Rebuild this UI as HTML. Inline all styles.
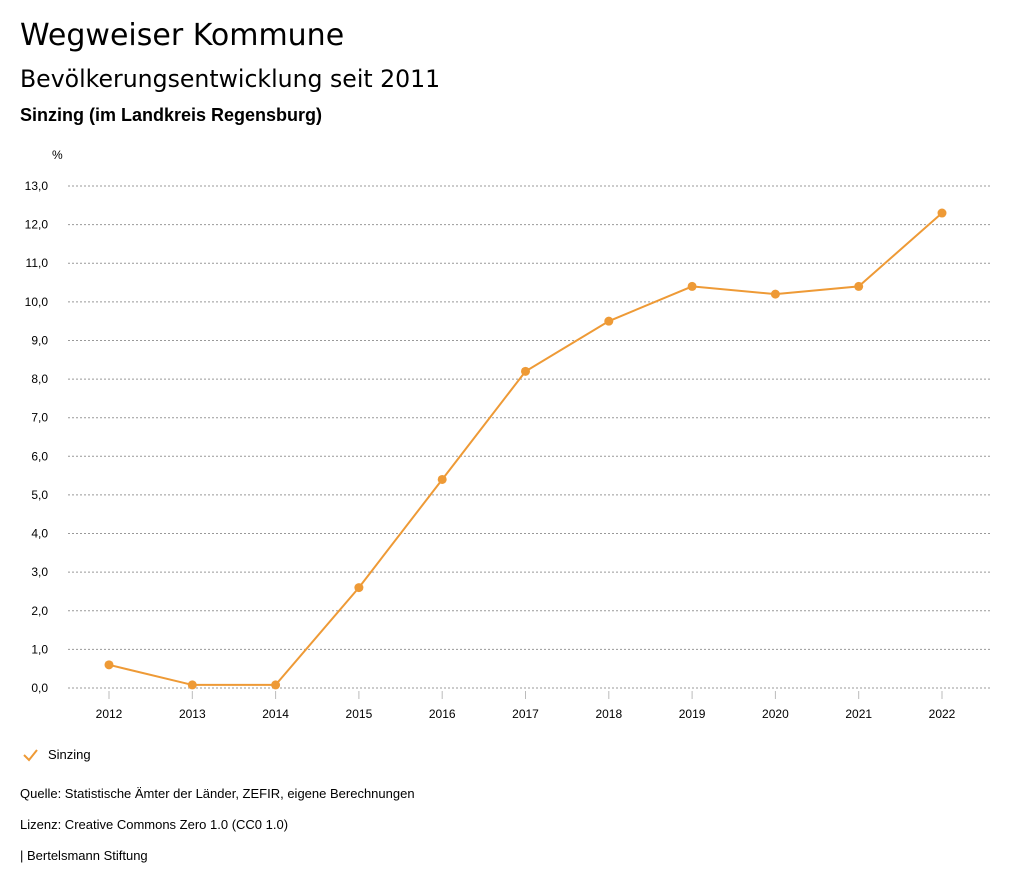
<!DOCTYPE html>
<html><head><meta charset="utf-8"><style>
body{margin:0;background:#fff;font-family:"Liberation Sans",sans-serif;color:#000;width:1024px;height:888px;overflow:hidden;position:relative}
.t{position:absolute;left:20px;white-space:nowrap}
</style></head><body>
<div class="t" style="top:18px;font-size:30px;font-family:'DejaVu Sans',sans-serif">Wegweiser Kommune</div>
<div class="t" style="top:65px;font-size:23.6px;font-family:'DejaVu Sans',sans-serif">Bevölkerungsentwicklung seit 2011</div>
<div class="t" style="top:105px;font-size:18px;font-weight:bold">Sinzing (im Landkreis Regensburg)</div>
<svg id="chart" width="1024" height="888" style="position:absolute;left:0;top:0"></svg>
<div class="t" style="top:786px;font-size:13px">Quelle: Statistische Ämter der Länder, ZEFIR, eigene Berechnungen</div>
<div class="t" style="top:817px;font-size:13px">Lizenz: Creative Commons Zero 1.0 (CC0 1.0)</div>
<div class="t" style="top:848px;font-size:13px">| Bertelsmann Stiftung</div>
<script>
const years=[2012,2013,2014,2015,2016,2017,2018,2019,2020,2021,2022];
const values=[0.6,0.08,0.08,2.6,5.4,8.2,9.5,10.4,10.2,10.4,12.3];
const yTicks=[0,1,2,3,4,5,6,7,8,9,10,11,12,13];
const seriesName='Sinzing';
const svg=document.getElementById('chart');
const NS='http://www.w3.org/2000/svg';
const col='#ee9a36';
const x0=109,x1=942,y0=688,y1=186;
const xs=i=>x0+(x1-x0)*i/(years.length-1);
const ys=v=>y0-(y0-y1)*v/13;
function mk(t,a){const e=document.createElementNS(NS,t);for(const k in a)e.setAttribute(k,a[k]);svg.appendChild(e);return e;}
let u=mk('text',{x:52,y:159,'font-size':12,'font-family':'Liberation Sans'});u.textContent='%';


yTicks.forEach(v=>{
 const l=mk('line',{x1:68,x2:990,y1:ys(v),y2:ys(v),stroke:'#999','stroke-dasharray':'2,2','stroke-width':1});
 
 
 const t=mk('text',{x:48,y:ys(v)+4,'font-size':12,'text-anchor':'end','font-family':'Liberation Sans'});
 t.textContent=v.toFixed(1).replace('.',',');
 
 
});
years.forEach((y,i)=>{
 const l=mk('line',{x1:xs(i),x2:xs(i),y1:691,y2:699,stroke:'#bbb'});
 
 
 const t=mk('text',{x:xs(i),y:718,'font-size':12,'text-anchor':'middle','font-family':'Liberation Sans'});
 t.textContent=y;
 
 
});
const p=mk('polyline',{points:values.map((v,i)=>xs(i)+','+ys(v)).join(' '),fill:'none',stroke:col,'stroke-width':2});


values.forEach((v,i)=>{
 const c=mk('circle',{cx:xs(i),cy:ys(v),r:4.5,fill:col});
 
 
});
const chk=mk('polyline',{points:'24,755 29,760 37,750',fill:'none',stroke:col,'stroke-width':2});


const lt=mk('text',{x:48,y:759,'font-size':13,'font-family':'Liberation Sans'});
lt.textContent=seriesName;


</script>
</body></html>
